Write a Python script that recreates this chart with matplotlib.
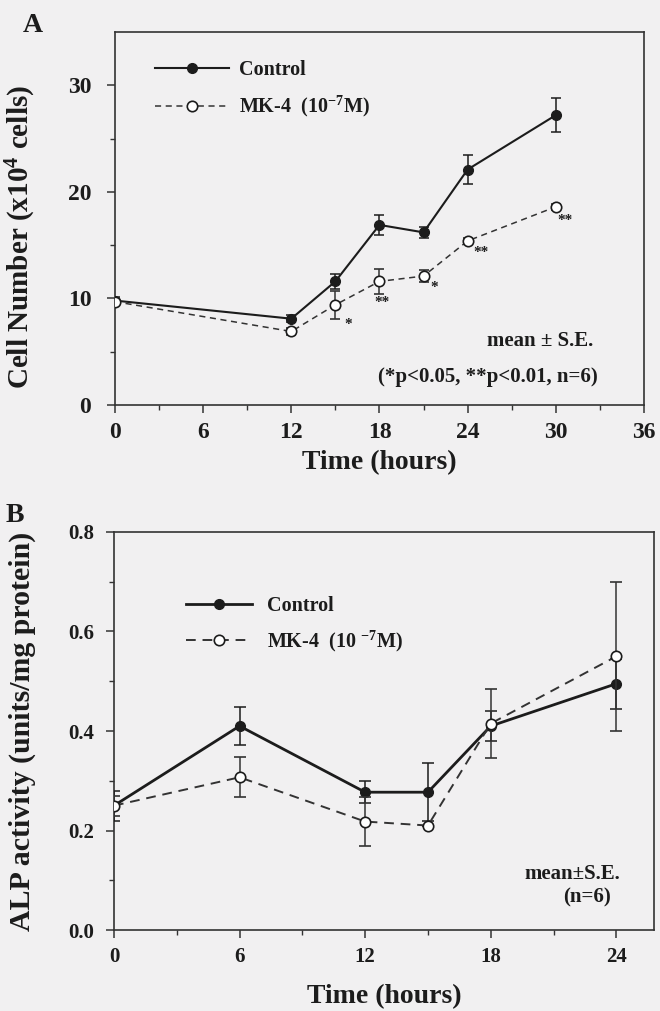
import numpy as np
import matplotlib
matplotlib.use('Agg')
import matplotlib.pyplot as plt

plt.rcParams['font.family'] = ['Liberation Serif', 'DejaVu Serif']
plt.rcParams['font.weight'] = 'bold'
plt.rcParams['axes.labelweight'] = 'bold'
plt.rcParams['mathtext.fontset'] = 'custom'
plt.rcParams['mathtext.rm'] = 'Liberation Serif:bold'
plt.rcParams['mathtext.bf'] = 'Liberation Serif:bold'
plt.rcParams['mathtext.it'] = 'Liberation Serif:bold:italic'

# Panel A: cell number
time_a = [0, 12, 15, 18, 21, 24, 30]
ctrl_a = [9.8, 8.1, 11.6, 16.9, 16.2, 22.1, 27.2]
ctrl_a_se = [0.3, 0.3, 0.7, 0.9, 0.5, 1.4, 1.6]
mk_a = [9.7, 6.9, 9.4, 11.6, 12.1, 15.4, 18.6]
mk_a_se = [0.3, 0.3, 1.3, 1.2, 0.6, 0.3, 0.3]
sig_a_x = [15.9, 18.2, 21.7, 24.9, 30.6]
sig_a_y = [7.6, 9.6, 11.0, 14.3, 17.3]
sig_a_txt = ['*', '**', '*', '**', '**']

# Panel B: ALP activity
time_b = [0, 6, 12, 15, 18, 24]
ctrl_b = [0.25, 0.41, 0.277, 0.277, 0.41, 0.495]
ctrl_b_se = [0.03, 0.038, 0.022, 0.058, 0.03, 0.05]
mk_b = [0.25, 0.307, 0.218, 0.21, 0.415, 0.55]
mk_b_se = [0.02, 0.04, 0.049, 0.0, 0.07, 0.15]

ink = '#1c1c1c'
bg = '#f1f0f1'

fig = plt.figure(figsize=(6.6, 10.11), dpi=100, facecolor=bg)

def style_axes(ax, tick_size, ypad):
    ax.set_facecolor(bg)
    for s in ax.spines.values():
        s.set_color('#333333')
        s.set_linewidth(1.2)
    ax.tick_params(which='major', direction='out', length=6, width=1.1, color='#333333',
                   labelsize=tick_size, top=False, right=False)
    ax.tick_params(which='minor', direction='out', length=3.5, width=1.0, color='#333333',
                   top=False, right=False)
    ax.tick_params(axis='x', pad=6)
    ax.tick_params(axis='y', pad=ypad)
    for lab in ax.get_xticklabels() + ax.get_yticklabels():
        lab.set_fontweight('bold')
        lab.set_color(ink)

# ---------------- A ----------------
axA = fig.add_axes([0.1742, 0.5994, 0.8015, 0.3689])
ca = axA.errorbar(time_a, ctrl_a, yerr=ctrl_a_se, color=ink, lw=1.5, marker='o', ms=7,
                  mfc=ink, mec=ink, capsize=3.5, elinewidth=1.1, capthick=1.1, zorder=3)
ma = axA.errorbar(time_a, mk_a, yerr=mk_a_se, color='#333333', lw=1.1, ls=(0, (4, 3)), marker='o', ms=7.5,
                  mfc='white', mec=ink, mew=1.2, capsize=3.5, elinewidth=1.1, capthick=1.1, zorder=4)
for x, y, t in zip(sig_a_x, sig_a_y, sig_a_txt):
    axA.text(x, y, t, ha='center', va='center', fontsize=11, color=ink)
axA.text(28.9, 6.05, 'mean ± S.E.', ha='center', va='center', fontsize=15, color=ink)
axA.text(25.4, 2.64, '(*p<0.05, **p<0.01, n=6)', ha='center', va='center', fontsize=15, color=ink)
axA.set_xlim(0, 36)
axA.set_ylim(0, 35)
axA.set_xticks(np.arange(0, 37, 6))
axA.set_xticks(np.arange(3, 36, 6), minor=True)
axA.set_yticks([0, 10, 20, 30])
axA.set_yticks([5, 15, 25], minor=True)
style_axes(axA, 17, 11)
axA.set_xlabel('Time (hours)', fontsize=20, color=ink, fontweight='bold')
axA.xaxis.set_label_coords(0.5, -0.12)
axA.set_ylabel('Cell Number (x10$^{4}$ cells)', fontsize=21, color=ink, fontweight='bold')
axA.yaxis.set_label_coords(-0.146, 0.45)
legA = axA.legend([ca.lines[0], ma.lines[0]], ['Control', 'MK-4  (10$^{-7}$M)'],
                  loc='upper left', bbox_to_anchor=(0.075, 0.925), frameon=False, fontsize=14.5,
                  handlelength=3.7, handletextpad=0.5, labelspacing=0.7, borderpad=0,
                  borderaxespad=0, numpoints=1)
for t in legA.get_texts():
    t.set_color(ink)
fig.text(0.05, 0.975, 'A', fontsize=20, ha='center', va='center', color=ink, fontweight='bold')

# ---------------- B ----------------
axB = fig.add_axes([0.1727, 0.0801, 0.8182, 0.3937])
cb = axB.errorbar(time_b, ctrl_b, yerr=ctrl_b_se, color=ink, lw=2.0, marker='o', ms=7,
                  mfc=ink, mec=ink, capsize=4, elinewidth=1.1, capthick=1.1, zorder=3)
mb = axB.errorbar(time_b, mk_b, yerr=mk_b_se, color='#333333', lw=1.4, ls=(0, (5, 3.5)), marker='o', ms=7.5,
                  mfc='white', mec=ink, mew=1.2, capsize=4, elinewidth=1.1, capthick=1.1, zorder=4)
axB.text(21.9, 0.113, 'mean±S.E.', ha='center', va='center', fontsize=15, color=ink)
axB.text(22.6, 0.065, '(n=6)', ha='center', va='center', fontsize=15, color=ink)
axB.set_xlim(0, 25.8)
axB.set_ylim(0, 0.8)
axB.set_xticks(np.arange(0, 25, 6))
axB.set_xticks(np.arange(3, 25, 6), minor=True)
axB.set_yticks(np.arange(0, 0.81, 0.2))
axB.set_yticks(np.arange(0.1, 0.8, 0.2), minor=True)
axB.set_yticklabels(['0.0', '0.2', '0.4', '0.6', '0.8'])
style_axes(axB, 15, 8)
axB.set_xlabel('Time (hours)', fontsize=20, color=ink, fontweight='bold')
axB.xaxis.set_label_coords(0.5, -0.135)
axB.set_ylabel('ALP activity (units/mg protein)', fontsize=21.5, color=ink, fontweight='bold')
axB.yaxis.set_label_coords(-0.144, 0.5)
legB = axB.legend([cb.lines[0], mb.lines[0]], ['Control', 'MK-4  (10 $^{-7}$M)'],
                  loc='upper left', bbox_to_anchor=(0.133, 0.84), frameon=False, fontsize=14.5,
                  handlelength=3.3, handletextpad=0.75, labelspacing=0.65, borderpad=0,
                  borderaxespad=0, numpoints=1)
for t in legB.get_texts():
    t.set_color(ink)
fig.text(0.023, 0.49, 'B', fontsize=20, ha='center', va='center', color=ink, fontweight='bold')

fig.savefig('out.png', dpi=100, facecolor=bg)
